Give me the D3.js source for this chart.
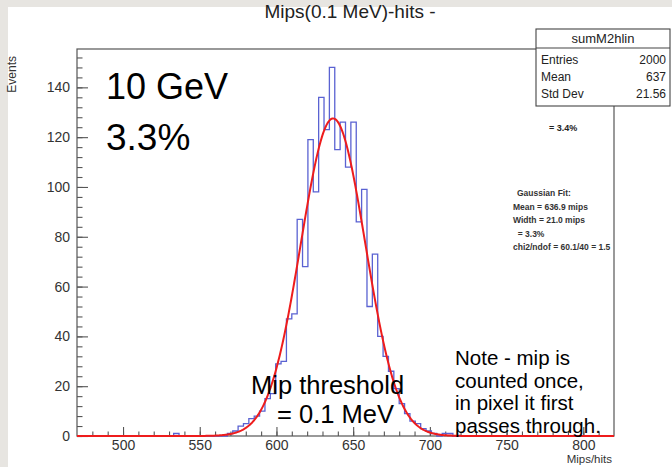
<!DOCTYPE html>
<html>
<head>
<meta charset="utf-8">
<script src="https://cdnjs.cloudflare.com/ajax/libs/d3/7.8.5/d3.min.js"></script>
<style>
  html, body { margin: 0; padding: 0; background: #e7e5e1; }
  svg { display: block; font-family: "Liberation Sans", Arial, Helvetica, sans-serif; }
</style>
</head>
<body>
<svg width="672" height="467"></svg>
<script>
// Histogram range and per-bin entries (100 bins)
const histRange = [470, 820];
const counts = [
  0, 0, 0, 0, 0, 0, 0, 0, 0, 0,
  0, 0, 0, 0, 0, 0, 0, 0, 1, 0,
  0, 0, 0, 0, 0, 0, 0, 0, 1, 2,
  4, 5, 7, 8, 10, 15, 17, 29, 30, 47,
  49, 87, 68, 119, 98, 136, 123, 148, 115, 126,
  108, 126, 86, 99, 52, 73, 40, 32, 26, 19,
  13, 9, 6, 5, 3, 2, 1, 0, 1, 1,
  0, 0, 0, 0, 0, 0, 0, 0, 0, 0,
  0, 0, 0, 0, 0, 0, 0, 0, 0, 0,
  0, 0, 0, 0, 0, 0, 0, 0, 0, 0
];

// Gaussian fit parameters
const fitConstant = 127.5;
const fitMean = 636.9;
const fitSigma = 21.0;

// Axis ticks
const xTicks = [500, 550, 600, 650, 700, 750, 800];
const yTicks = [0, 20, 40, 60, 80, 100, 120, 140];

// Stats box
const statsTitle = "sumM2hlin";
const statLabels = ["Entries", "Mean", "Std Dev"];
const statValues = ["2000", "637", "21.56"];

// Fit summary text
const fitLines = ["Gaussian Fit:", "Mean = 636.9 mips", "Width = 21.0 mips", "  = 3.3%", "chi2/ndof = 60.1/40 = 1.5"];
const noteLines = ["Note - mip is", "counted once,", "in pixel it first", "passes through."];

const svg = d3.select("svg"),
      width = +svg.attr("width"),
      height = +svg.attr("height");

// white canvas
svg.append("rect")
    .attr("x", 8).attr("y", 7)
    .attr("width", width - 8).attr("height", height - 7)
    .attr("fill", "#ffffff");

const frame = {left: 77, right: 614, top: 49, bottom: 436};
const binWidth = (histRange[1] - histRange[0]) / counts.length;
const yMax = d3.max(counts) * 1.05;

const x = d3.scaleLinear().domain(histRange).range([frame.left, frame.right]);
const y = d3.scaleLinear().domain([0, yMax]).range([frame.bottom, frame.top]);

// title
svg.append("text")
    .attr("x", 350).attr("y", 18)
    .attr("text-anchor", "middle")
    .attr("font-size", 19)
    .attr("fill", "#222")
    .text("Mips(0.1 MeV)-hits -");

// frame
svg.append("rect")
    .attr("x", frame.left).attr("y", frame.top)
    .attr("width", frame.right - frame.left)
    .attr("height", frame.bottom - frame.top)
    .attr("fill", "none")
    .attr("stroke", "#555")
    .attr("stroke-width", 1.2);

// y axis, ticks pointing into the frame
svg.append("g")
    .attr("transform", `translate(${frame.left},0)`)
    .call(d3.axisLeft(y).tickValues(yTicks).tickSize(-11).tickPadding(7).tickFormat(d3.format("d")));
svg.append("g")
    .attr("transform", `translate(${frame.left},0)`)
    .call(d3.axisLeft(y).tickValues(d3.range(0, yMax, 4)).tickSize(-5.5).tickFormat(""));

// x axis
svg.append("g")
    .attr("transform", `translate(0,${frame.bottom})`)
    .call(d3.axisBottom(x).tickValues(xTicks).tickSize(-9).tickPadding(4).tickFormat(d3.format("d")));
svg.append("g")
    .attr("transform", `translate(0,${frame.bottom})`)
    .call(d3.axisBottom(x).tickValues(d3.range(480, 820, 10)).tickSize(-4.5).tickFormat(""));

svg.selectAll(".domain").remove();
svg.selectAll(".tick line").attr("stroke", "#555").attr("stroke-width", 1.1);
svg.selectAll(".tick text")
    .attr("font-size", 14)
    .attr("fill", "#333")
    .attr("font-family", "Liberation Sans, Arial, sans-serif");

// axis titles
svg.append("text")
    .attr("transform", `translate(16,${frame.top + 7}) rotate(-90)`)
    .attr("text-anchor", "end")
    .attr("font-size", 12)
    .attr("fill", "#333")
    .text("Events");

svg.append("text")
    .attr("x", frame.right - 2).attr("y", 463)
    .attr("text-anchor", "end")
    .attr("font-size", 11.5)
    .attr("fill", "#333")
    .text("Mips/hits");

// histogram outline as steps
const steps = [[histRange[0], 0]];
counts.forEach((c, i) => {
    const lo = histRange[0] + i * binWidth;
    steps.push([lo, c], [lo + binWidth, c]);
});
steps.push([histRange[1], 0]);

svg.append("path")
    .datum(steps)
    .attr("fill", "none")
    .attr("stroke", "#5a62d2")
    .attr("stroke-width", 1.3)
    .attr("d", d3.line().x(d => x(d[0])).y(d => y(d[1])));

// gaussian fit curve
const fitX = d3.range(histRange[0], histRange[1] + 0.5, 0.5);
svg.append("path")
    .datum(fitX)
    .attr("fill", "none")
    .attr("stroke", "#ee1c1c")
    .attr("stroke-width", 2)
    .attr("d", d3.line()
        .x(d => x(d))
        .y(d => y(fitConstant * Math.exp(-0.5 * Math.pow((d - fitMean) / fitSigma, 2)))));

// stats box
const box = svg.append("g").attr("transform", "translate(536,29)");
box.append("rect")
    .attr("width", 134).attr("height", 77)
    .attr("fill", "#fff")
    .attr("stroke", "#444")
    .attr("stroke-width", 1.1);
box.append("line")
    .attr("x1", 0).attr("x2", 134)
    .attr("y1", 19).attr("y2", 19)
    .attr("stroke", "#444").attr("stroke-width", 1.1);
box.append("text")
    .attr("x", 67).attr("y", 14)
    .attr("text-anchor", "middle")
    .attr("font-size", 13)
    .attr("fill", "#222")
    .text(statsTitle);
box.selectAll("text.lab")
    .data(statLabels)
    .enter().append("text")
    .attr("class", "lab")
    .attr("x", 5)
    .attr("y", (d, i) => 35 + i * 17)
    .attr("font-size", 12)
    .attr("fill", "#222")
    .text(d => d);
box.selectAll("text.val")
    .data(statValues)
    .enter().append("text")
    .attr("class", "val")
    .attr("x", 130)
    .attr("y", (d, i) => 35 + i * 17)
    .attr("text-anchor", "end")
    .attr("font-size", 12)
    .attr("fill", "#222")
    .text(d => d);

// small bold annotations
svg.append("text")
    .attr("x", 549).attr("y", 131)
    .attr("font-size", 9)
    .attr("font-weight", "bold")
    .attr("fill", "#222")
    .text("= 3.4%");

svg.selectAll("text.fit")
    .data(fitLines)
    .enter().append("text")
    .attr("class", "fit")
    .attr("x", (d, i) => i === 0 ? 517 : 513)
    .attr("y", (d, i) => 196 + i * 13.5)
    .attr("font-size", 8.5)
    .attr("font-weight", "bold")
    .attr("fill", "#333")
    .style("white-space", "pre")
    .text(d => d);

// large annotations
svg.append("text")
    .attr("x", 106).attr("y", 99)
    .attr("font-size", 36)
    .attr("fill", "#000")
    .text("10 GeV");
svg.append("text")
    .attr("x", 106).attr("y", 150)
    .attr("font-size", 37)
    .attr("fill", "#000")
    .text("3.3%");

svg.append("text")
    .attr("x", 251).attr("y", 394)
    .attr("font-size", 25.5)
    .attr("fill", "#000")
    .text("Mip threshold");
svg.append("text")
    .attr("x", 277).attr("y", 423)
    .attr("font-size", 25.5)
    .attr("fill", "#000")
    .text("= 0.1 MeV");

svg.selectAll("text.note")
    .data(noteLines)
    .enter().append("text")
    .attr("class", "note")
    .attr("x", 455)
    .attr("y", (d, i) => 365 + i * 22.5)
    .attr("font-size", 20.5)
    .attr("fill", "#000")
    .text(d => d);
</script>
</body>
</html>
